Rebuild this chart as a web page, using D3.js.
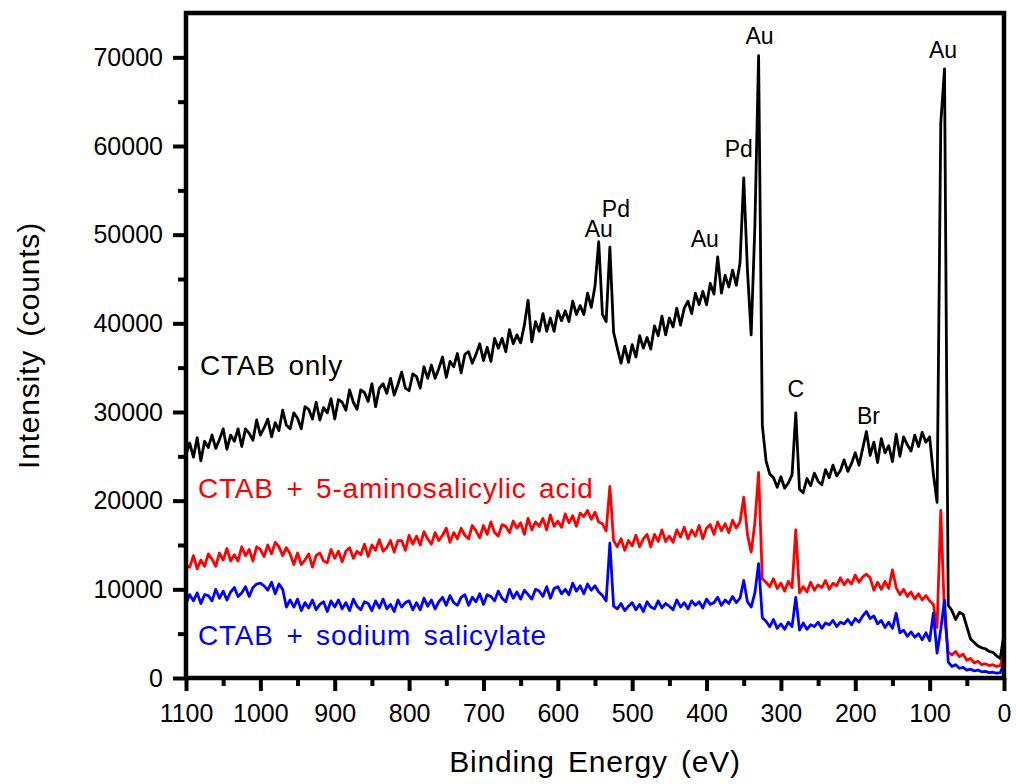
<!DOCTYPE html>
<html>
<head>
<meta charset="utf-8">
<script src="https://cdn.jsdelivr.net/npm/d3@7"></script>
<style>
  html, body { margin: 0; padding: 0; background: #fff; }
  svg { display: block; font-family: "Liberation Sans", Arial, Helvetica, sans-serif; }
</style>
</head>
<body>
<svg id="chart" width="1016" height="784"></svg>
<script>
// XPS survey spectra, binding energy (eV) from 1100 down to 0 in 5 eV steps
const energy = [
  1100,1095,1090,1085,1080,1075,1070,1065,1060,1055,
  1050,1045,1040,1035,1030,1025,1020,1015,1010,1005,
  1000,995,990,985,980,975,970,965,960,955,
  950,945,940,935,930,925,920,915,910,905,
  900,895,890,885,880,875,870,865,860,855,
  850,845,840,835,830,825,820,815,810,805,
  800,795,790,785,780,775,770,765,760,755,
  750,745,740,735,730,725,720,715,710,705,
  700,695,690,685,680,675,670,665,660,655,
  650,645,640,635,630,625,620,615,610,605,
  600,595,590,585,580,575,570,565,560,555,
  550,545,540,535,530,525,520,515,510,505,
  500,495,490,485,480,475,470,465,460,455,
  450,445,440,435,430,425,420,415,410,405,
  400,395,390,385,380,375,370,365,360,355,
  350,345,340,335,330,325,320,315,310,305,
  300,295,290,285,280,275,270,265,260,255,
  250,245,240,235,230,225,220,215,210,205,
  200,195,190,185,180,175,170,165,160,155,
  150,145,140,135,130,125,120,115,110,105,
  100,95,90,85,80,75,70,65,60,55,
  50,45,40,35,30,25,20,15,10,5,
  0
];

// CTAB only (counts)
const ctabOnly = [
  25200,26500,24900,27100,24500,26700,26000,27400,25900,26900,
  28100,25800,27400,26700,28100,26100,28100,27600,26800,29100,
  27400,28200,29200,27200,28800,27900,30200,28500,28100,29900,
  29300,28100,30600,30300,29200,31100,29100,30500,29900,31500,
  29200,31400,31100,30200,32500,31100,30300,32500,32200,31200,
  33200,30600,32700,33200,32100,33800,31900,33100,34500,32700,
  32400,34300,34000,32700,35100,33800,35300,33800,34900,36200,
  33900,35700,35100,36600,34400,36500,36800,35500,36500,37700,
  35800,37300,35700,38300,37200,38300,36800,39300,37700,38700,
  37800,39800,42600,37900,40200,39100,41100,39100,40600,39100,
  41400,40300,41400,40200,42500,41000,42000,41000,43400,41800,
  44200,49200,41000,40200,48600,39000,37200,35500,37400,35600,
  37600,36200,38600,37200,38400,37100,39700,38600,40800,38700,
  40600,39600,41700,39800,41700,42500,41100,43400,42100,43600,
  42100,44500,43300,47500,43400,45400,44100,46000,44300,46800,
  56400,46000,38700,51000,70200,28500,24500,23000,22600,21500,
  22700,21400,22000,22900,29900,21300,20900,22500,21700,23100,
  22200,21800,23500,22600,24000,22800,23400,24600,23300,24200,
  25400,24000,25900,27800,25100,26600,24300,27000,25400,26200,
  24400,27500,25000,27200,26300,25600,27400,26100,27700,26600,
  27200,23000,19800,62600,68700,8200,7600,6600,7400,7200,
  5800,4400,4000,3600,3400,3300,3000,2900,2500,2200,
  5000
];

// CTAB + 5-aminosalicylic acid (counts)
const ctabAmino = [
  12700,12500,13800,12300,13300,12600,14000,13400,12600,14100,
  13300,14600,13200,13900,13200,14800,13800,14500,13200,14800,
  14500,13700,15000,14000,15300,14800,13800,14700,14000,12800,
  14100,12800,13300,14000,12500,13800,14100,13200,13000,14500,
  13500,14300,13100,14300,14700,13500,14300,13900,15100,13700,
  15000,14400,15600,14300,14700,15500,14200,15500,15500,14400,
  16100,15100,16000,15000,16500,15700,15100,16400,15500,16100,
  16900,15300,16400,15700,16900,16100,15700,17200,16600,15800,
  17200,16200,17600,16400,16000,17300,17100,16400,17700,16900,
  17500,16200,18000,16700,17600,17100,18000,16700,18400,17100,
  17700,17000,18500,17500,18300,17100,18600,18200,18900,17900,
  18700,17600,17400,16600,21600,15500,14800,15700,14400,15500,
  14900,16100,14800,15700,16200,14800,16200,15400,16700,15400,
  16000,15300,16700,15900,17000,15700,16700,16000,17200,15700,
  16900,17300,16200,17600,16600,17400,16400,17800,16900,17600,
  20400,16200,14200,17500,23200,11200,10800,10300,11200,10100,
  10700,9800,10900,10200,16700,9600,10300,9700,10800,9900,
  10500,10200,11000,10000,10700,10400,11300,10500,11100,10600,
  11600,10800,11400,11700,11300,9900,10800,10000,10900,10100,
  12200,10200,9400,10000,9200,9700,8900,9500,8800,9300,
  8700,8300,5700,18900,7000,2900,2600,3000,2400,2700,
  2000,2200,1700,1900,1500,1600,1400,1500,1300,1400,
  2900
];

// CTAB + sodium salicylate (counts)
const ctabSalicylate = [
  8400,9400,8700,9600,8400,9400,9300,8700,10000,9000,
  9800,8800,9700,10200,9200,9600,10300,9200,10200,10600,
  10700,10400,9900,10800,9500,10600,10000,8000,8800,8000,
  8900,7600,8500,7900,8800,7700,8300,8600,7500,8700,
  8000,8800,7800,8500,7600,8900,8100,7700,8600,8400,
  7600,8700,7900,8900,7800,8300,7500,8800,8000,8500,
  8700,7700,8500,7700,9000,8100,8800,7800,8600,9100,
  8200,9300,8500,8200,9100,9400,8200,9100,8600,9500,
  8300,9400,9200,8700,9800,9000,8600,10000,9000,9700,
  8900,9900,9400,8900,10000,9800,9200,10300,9000,10100,
  10300,9500,10000,9400,10700,9800,10400,9500,10600,9900,
  10400,9700,9300,8700,15200,8100,7800,8400,7600,8100,
  8500,7700,8300,7500,8600,8000,7800,8700,7900,8400,
  8100,7700,8800,8000,8500,7800,8700,8200,8600,7900,
  8900,8300,8500,9100,8200,8800,8400,9200,8500,9000,
  11000,8600,8000,9600,12900,6800,6400,5800,6600,5600,
  6100,5500,6300,5800,9100,5400,6200,5500,6000,5800,
  6300,5600,6200,6000,6500,5800,6300,6100,6600,6000,
  6700,6300,7000,7500,6700,7000,6100,6500,5700,6300,
  5600,7300,5100,5400,4700,5200,4600,5000,4300,5100,
  4200,7300,2800,5500,8800,1800,1300,1500,1100,1200,
  900,1000,800,900,700,750,600,650,550,600,
  1700
];

const seriesNames = ["CTAB only", "CTAB + 5-aminosalicylic acid", "CTAB + sodium salicylate"];
const seriesColors = ["#000000", "#ff0000", "#0000ff"];

const xTickValues = [1100, 1000, 900, 800, 700, 600, 500, 400, 300, 200, 100, 0];
const xMinorTicks = [1050, 950, 850, 750, 650, 550, 450, 350, 250, 150, 50];
const yTickValues = [0, 10000, 20000, 30000, 40000, 50000, 60000, 70000];
const yMinorTicks = [5000, 15000, 25000, 35000, 45000, 55000, 65000];

// Peak assignments on the CTAB-only spectrum
const peakNames = ["Au", "Pd", "Au", "Pd", "Au", "Au", "C", "Br"];
const peakEnergies = [545, 530, 385, 350, 330, 80, 280, 185];

// ---- layout ----
const svg = d3.select("#chart");
const plot = { left: 186, right: 1004, top: 13, bottom: 678 };

const x = d3.scaleLinear().domain([1100, 0]).range([plot.left, plot.right]);
const y = d3.scaleLinear().domain([0, 75000]).range([plot.bottom, plot.top]);

// spectra
const series = [ctabOnly, ctabAmino, ctabSalicylate];
const line = d3.line()
  .x((d, i) => x(energy[i]))
  .y(d => y(d));

svg.append("g").attr("class", "spectra")
  .selectAll("path")
  .data(series)
  .join("path")
  .attr("d", d => line(d))
  .attr("fill", "none")
  .attr("stroke", (d, i) => seriesColors[i])
  .attr("stroke-width", 2.8)
  .attr("stroke-linejoin", "round");

// axes (outward ticks on left and bottom)
const tickFont = 25;
function styleAxis(g) {
  g.select(".domain").remove();
  g.selectAll(".tick line").attr("stroke", "#000").attr("stroke-width", 4);
  g.selectAll(".tick text")
    .attr("fill", "#000")
    .style("font-size", tickFont + "px")
    .style("font-family", "'Liberation Sans', Arial, sans-serif");
}

svg.append("g")
  .attr("transform", `translate(0,${plot.bottom})`)
  .call(d3.axisBottom(x).tickValues(xMinorTicks).tickSize(8).tickFormat(""))
  .call(styleAxis);

svg.append("g")
  .attr("transform", `translate(0,${plot.bottom})`)
  .call(d3.axisBottom(x).tickValues(xTickValues).tickSize(13).tickPadding(13).tickFormat(d3.format("d")))
  .call(styleAxis);

svg.append("g")
  .attr("transform", `translate(${plot.left},0)`)
  .call(d3.axisLeft(y).tickValues(yMinorTicks).tickSize(8).tickFormat(""))
  .call(styleAxis);

svg.append("g")
  .attr("transform", `translate(${plot.left},0)`)
  .call(d3.axisLeft(y).tickValues(yTickValues).tickSize(13).tickPadding(10).tickFormat(d3.format("d")))
  .call(styleAxis);

// frame
svg.append("rect")
  .attr("x", plot.left).attr("y", plot.top)
  .attr("width", plot.right - plot.left).attr("height", plot.bottom - plot.top)
  .attr("fill", "none").attr("stroke", "#000").attr("stroke-width", 4.5);

// axis titles
const titleStyle = t => t
  .attr("fill", "#000")
  .style("font-size", "30px")
  .style("letter-spacing", "0.8px")
  .style("word-spacing", "4px");

svg.append("text")
  .attr("x", (plot.left + plot.right) / 2).attr("y", 772)
  .attr("text-anchor", "middle")
  .text("Binding Energy (eV)")
  .call(titleStyle);

svg.append("text")
  .attr("transform", `translate(39,${(plot.top + plot.bottom) / 2}) rotate(-90)`)
  .attr("text-anchor", "middle")
  .text("Intensity (counts)")
  .call(titleStyle);

// series labels inside the plot
const seriesLabelPos = [
  { x: 200, y: 375 },
  { x: 198, y: 498 },
  { x: 198, y: 645 }
];
svg.append("g").selectAll("text")
  .data(seriesNames)
  .join("text")
  .attr("x", (d, i) => seriesLabelPos[i].x)
  .attr("y", (d, i) => seriesLabelPos[i].y)
  .attr("fill", (d, i) => seriesColors[i])
  .style("font-size", "28px")
  .style("letter-spacing", "0.8px")
  .style("word-spacing", "4px")
  .text(d => d);

// peak labels, placed just above each peak of the CTAB-only trace
const peakLabelOffset = [
  { dx: 0, dy: 5 }, { dx: 6, dy: 30 }, { dx: -13, dy: 10 }, { dx: -5, dy: 21 },
  { dx: 1, dy: 12 }, { dx: -1.5, dy: 11 }, { dx: 0, dy: 16 }, { dx: 2, dy: 8 }
];
svg.append("g").selectAll("text")
  .data(peakNames)
  .join("text")
  .attr("x", (d, i) => x(peakEnergies[i]) + peakLabelOffset[i].dx)
  .attr("y", (d, i) => y(ctabOnly[energy.indexOf(peakEnergies[i])]) - peakLabelOffset[i].dy)
  .attr("text-anchor", "middle")
  .attr("fill", "#000")
  .style("font-size", "23px")
  .text(d => d);
</script>
</body>
</html>
